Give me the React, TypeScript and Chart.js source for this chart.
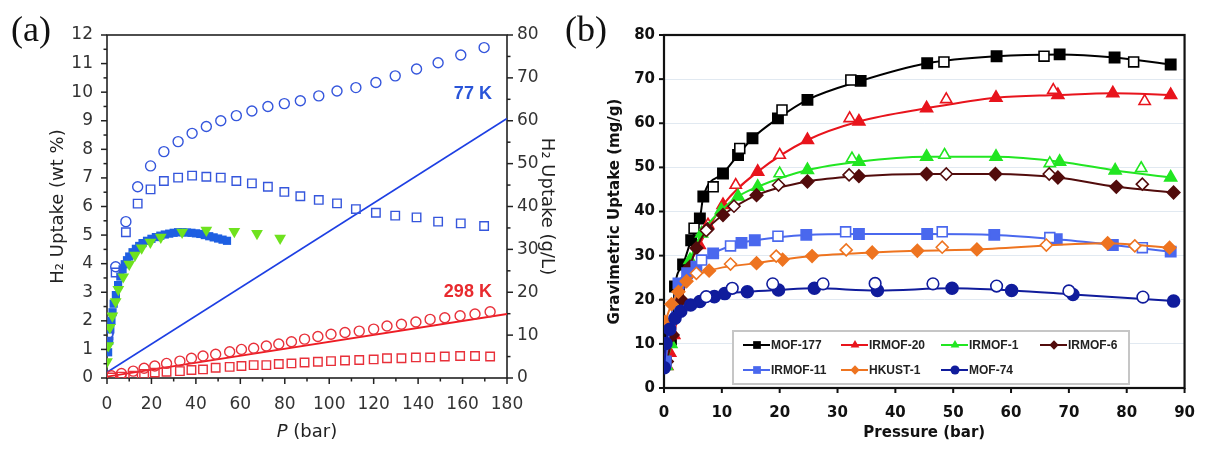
import React, { useEffect, useRef } from "react";
import { Chart, registerables } from "chart.js";
Chart.register(...registerables);

// ---------------- Panel (a) data ----------------
const A_P77 = [0.6, 3.9, 8.5, 13.8, 19.6, 25.6, 32, 38.3, 44.7, 51.2, 58.2, 65.2, 72.4, 79.8, 87, 95.3, 103.5, 112, 121, 129.7, 139.3, 149, 159.2, 169.7];
const A_TOTAL77 = [1.57, 3.89, 5.47, 6.69, 7.42, 7.92, 8.27, 8.56, 8.8, 9.0, 9.18, 9.34, 9.5, 9.6, 9.7, 9.87, 10.04, 10.16, 10.34, 10.57, 10.81, 11.03, 11.3, 11.56];
const A_EXCESS77 = [1.5, 3.69, 5.1, 6.1, 6.6, 6.89, 7.01, 7.08, 7.04, 7.01, 6.89, 6.81, 6.69, 6.51, 6.36, 6.23, 6.11, 5.91, 5.78, 5.68, 5.62, 5.47, 5.41, 5.32];
const A_P298 = [2, 6.5, 11.8, 16.7, 21.5, 26.8, 32.8, 38, 43.2, 48.9, 55.2, 60.5, 66, 71.7, 77.3, 83, 88.9, 94.9, 100.8, 107.1, 113.5, 120, 126, 132.5, 139, 145.4, 152, 158.9, 165.6, 172.4];
const A_TOTAL298 = [0.08, 0.16, 0.24, 0.34, 0.42, 0.51, 0.59, 0.69, 0.77, 0.83, 0.92, 1.0, 1.04, 1.12, 1.19, 1.27, 1.36, 1.45, 1.53, 1.59, 1.64, 1.71, 1.82, 1.88, 1.96, 2.05, 2.11, 2.18, 2.24, 2.32];
const A_EXCESS298 = [0.02, 0.05, 0.08, 0.14, 0.19, 0.22, 0.24, 0.28, 0.3, 0.36, 0.39, 0.42, 0.45, 0.45, 0.49, 0.51, 0.54, 0.57, 0.59, 0.61, 0.63, 0.65, 0.69, 0.69, 0.72, 0.72, 0.75, 0.77, 0.77, 0.75];
const A_PFILLED = [0.5, 1, 1.5, 2, 2.5, 3, 4, 5, 6, 7, 8, 9, 10, 11.5, 13, 14.5, 16, 18, 20, 22, 24, 26, 28, 30, 32, 34, 36, 38, 40, 42, 44, 46, 48, 50, 52, 54];
const A_FILLED = [0.9, 1.3, 1.7, 2.0, 2.3, 2.6, 2.9, 3.25, 3.55, 3.8, 3.98, 4.12, 4.25, 4.4, 4.52, 4.62, 4.72, 4.8, 4.87, 4.93, 4.98, 5.02, 5.05, 5.08, 5.1, 5.1, 5.09, 5.08, 5.06, 5.04, 5.0, 4.96, 4.92, 4.88, 4.84, 4.8];
const A_PTRI = [0, 0.6, 1.3, 2.4, 3.9, 5.1, 7.3, 10, 12.6, 15.6, 19.5, 24.2, 33.8, 44.7, 57.3, 67.5, 77.9];
const A_TRI = [0.57, 1.13, 1.77, 2.17, 2.67, 3.1, 3.54, 3.98, 4.3, 4.55, 4.75, 4.93, 5.1, 5.17, 5.13, 5.06, 4.89];
const A_LINE_P = [0, 180];
const A_LINE77 = [0.2, 9.08];
const A_LINE298 = [0.05, 2.24];
const A_XTICKS = [0, 20, 40, 60, 80, 100, 120, 140, 160, 180];
const A_YTICKS = [0, 1, 2, 3, 4, 5, 6, 7, 8, 9, 10, 11, 12];
const A_Y2TICKS = [0, 10, 20, 30, 40, 50, 60, 70, 80];

// ---------------- Panel (b) data ----------------
const MOF177_P = [0.3, 1.2, 1.9, 3.3, 4.7, 6.2, 6.8, 10.2, 12.8, 15.3, 19.7, 24.8, 34, 45.5, 57.5, 68.4, 77.9, 87.6];
const MOF177_V = [6, 11, 23, 28, 33.5, 38.4, 43.4, 48.6, 52.8, 56.6, 61.1, 65.3, 69.6, 73.6, 75.2, 75.6, 74.9, 73.3];
const MOF177_DP = [5.2, 8.5, 13.1, 20.4, 32.3, 48.4, 65.7, 81.2];
const MOF177_DV = [36.2, 45.6, 54.3, 63, 69.8, 73.9, 75.2, 73.9];
const IRMOF20_P = [0.5, 1.0, 1.7, 3.0, 4.5, 6.1, 10.2, 16.2, 24.8, 33.7, 45.4, 57.4, 68.1, 77.6, 87.6];
const IRMOF20_V = [5, 8, 12, 20, 28, 32.4, 41.5, 49, 56.2, 60.4, 63.4, 65.8, 66.4, 66.8, 66.4];
const IRMOF20_DP = [7.6, 12.4, 20, 32.1, 48.8, 67.3, 83.1];
const IRMOF20_DV = [37, 46, 52.8, 61.1, 65.4, 67.5, 65];
const IRMOF1_P = [0.4, 1.2, 2.5, 4.5, 6.5, 9.9, 12.8, 16.2, 24.8, 33.7, 45.4, 57.4, 68.4, 78, 87.6];
const IRMOF1_V = [5, 10, 20, 29, 35, 40.3, 43.4, 45.6, 49.4, 51.3, 52.4, 52.4, 51.3, 49.3, 47.7];
const IRMOF1_DP = [20, 32.5, 48.5, 66.7, 82.5];
const IRMOF1_DV = [48.6, 52, 52.8, 50.9, 49.8];
const IRMOF6_P = [0.5, 1.5, 3, 4.5, 5.6, 7.5, 10.2, 16, 24.8, 33.7, 45.4, 57.3, 68.1, 78.2, 88.1];
const IRMOF6_V = [6, 12, 20, 27.5, 31.7, 36, 39.2, 43.7, 46.8, 48, 48.5, 48.5, 47.7, 45.6, 44.3];
const IRMOF6_DP = [7.3, 12.1, 19.8, 32, 48.8, 66.6, 82.7];
const IRMOF6_DV = [35.7, 41.2, 46, 48.3, 48.5, 48.5, 46.2];
const IRMOF11_P = [0.3, 1.0, 2.5, 4.0, 5.6, 8.5, 13.4, 15.7, 24.6, 33.7, 45.5, 57.1, 67.9, 77.6, 87.6];
const IRMOF11_V = [6, 14, 23.7, 26, 27.5, 30.5, 32.9, 33.5, 34.7, 34.9, 34.9, 34.7, 33.7, 32.4, 30.9];
const IRMOF11_DP = [6.5, 11.5, 19.7, 31.4, 48.1, 66.7, 82.7];
const IRMOF11_DV = [29, 32.2, 34.4, 35.4, 35.4, 34.1, 31.8];
const HKUST1_P = [0.2, 1.3, 2.5, 3.9, 7.8, 16, 20.5, 25.6, 36, 43.8, 54.1, 76.7, 87.4];
const HKUST1_V = [15, 19, 21.8, 24.2, 26.6, 28.3, 29.1, 29.9, 30.7, 31.1, 31.4, 32.8, 31.8];
const HKUST1_DP = [5.6, 11.5, 19.4, 31.5, 48.1, 66.1, 81.4];
const HKUST1_DV = [26, 28.1, 29.9, 31.3, 31.9, 32.4, 32.2];
const MOF74_P = [0.05, 0.34, 1.0, 1.9, 2.9, 4.6, 6.2, 8.7, 10.5, 14.4, 19.8, 26, 36.9, 49.8, 60.1, 70.7, 88.1];
const MOF74_V = [4.6, 10.1, 13.3, 15.8, 17.4, 18.8, 19.6, 20.7, 21.4, 21.8, 22.2, 22.6, 22.1, 22.6, 22.1, 21.2, 19.7];
const MOF74_DP = [7.3, 11.8, 18.8, 27.5, 36.5, 46.5, 57.5, 70, 82.8];
const MOF74_DV = [20.7, 22.6, 23.6, 23.6, 23.7, 23.6, 23.1, 22, 20.6];
const B_XTICKS = [0, 10, 20, 30, 40, 50, 60, 70, 80, 90];
const B_YTICKS = [0, 10, 20, 30, 40, 50, 60, 70, 80];

const B_SERIES = [
  { name: "MOF-177", p: MOF177_P, v: MOF177_V, dp: MOF177_DP, dv: MOF177_DV },
  { name: "IRMOF-20", p: IRMOF20_P, v: IRMOF20_V, dp: IRMOF20_DP, dv: IRMOF20_DV },
  { name: "IRMOF-1", p: IRMOF1_P, v: IRMOF1_V, dp: IRMOF1_DP, dv: IRMOF1_DV },
  { name: "IRMOF-6", p: IRMOF6_P, v: IRMOF6_V, dp: IRMOF6_DP, dv: IRMOF6_DV },
  { name: "IRMOF-11", p: IRMOF11_P, v: IRMOF11_V, dp: IRMOF11_DP, dv: IRMOF11_DV },
  { name: "HKUST-1", p: HKUST1_P, v: HKUST1_V, dp: HKUST1_DP, dv: HKUST1_DV },
  { name: "MOF-74", p: MOF74_P, v: MOF74_V, dp: MOF74_DP, dv: MOF74_DV },
];

// ---------------- styles ----------------
const B_STYLE: Record<string, { color: string; shape: string; r: number }> = {
  "MOF-177": { color: "#000000", shape: "rect", r: 7 },
  "IRMOF-20": { color: "#e8141c", shape: "triangle", r: 6.5 },
  "IRMOF-1": { color: "#22e622", shape: "triangle", r: 6.5 },
  "IRMOF-6": { color: "#520c0c", shape: "rectRot", r: 6 },
  "IRMOF-11": { color: "#4a68ee", shape: "rect", r: 7 },
  "HKUST-1": { color: "#ee7420", shape: "rectRot", r: 6 },
  "MOF-74": { color: "#101c9c", shape: "circle", r: 5.8 },
};

const FA = "'DejaVu Sans', sans-serif";
const FB = "'DejaVu Sans', sans-serif";
const BLUE = "#3556dc";
const RED = "#e8303a";

const pts = (xs: number[], ys: number[]) => xs.map((x, i) => ({ x, y: ys[i] }));

type TickSpec = { id: string; side: "left" | "right" | "bottom"; major: number; minor: number; majorLen: number; minorLen: number };

function tickPlugin(specs: TickSpec[], color: string, width: number) {
  return {
    id: "tickMarks",
    beforeDatasetsDraw(chart: any) {
      const { ctx, chartArea: ca } = chart;
      ctx.save();
      ctx.strokeStyle = color;
      ctx.lineWidth = width;
      for (const s of specs) {
        const sc = chart.scales[s.id];
        const n = Math.round((sc.max - sc.min) / s.minor);
        for (let i = 0; i <= n; i++) {
          const v = sc.min + i * s.minor;
          const r = v / s.major;
          const isMajor = Math.abs(r - Math.round(r)) < 1e-6;
          const len = isMajor ? s.majorLen : s.minorLen;
          const p = sc.getPixelForValue(v);
          ctx.beginPath();
          if (s.side === "left") { ctx.moveTo(ca.left, p); ctx.lineTo(ca.left - len, p); }
          else if (s.side === "right") { ctx.moveTo(ca.right, p); ctx.lineTo(ca.right + len, p); }
          else { ctx.moveTo(p, ca.bottom); ctx.lineTo(p, ca.bottom + len); }
          ctx.stroke();
        }
      }
      ctx.restore();
    },
  };
}

function boxPlugin(color: string, width: number) {
  return {
    id: "box",
    beforeDatasetsDraw(chart: any) {
      const { ctx, chartArea: ca } = chart;
      ctx.save();
      ctx.strokeStyle = color;
      ctx.lineWidth = width;
      ctx.strokeRect(ca.left, ca.top, ca.right - ca.left, ca.bottom - ca.top);
      ctx.restore();
    },
  };
}

function marker(ctx: CanvasRenderingContext2D, shape: string, x: number, y: number, r: number) {
  ctx.beginPath();
  if (shape === "rect") {
    const s = r * Math.SQRT1_2;
    ctx.rect(x - s, y - s, 2 * s, 2 * s);
  } else if (shape === "triangle") {
    for (let k = 0; k < 3; k++) {
      const a = (k * 2 * Math.PI) / 3;
      const px = x + Math.sin(a) * r, py = y - Math.cos(a) * r;
      if (k === 0) ctx.moveTo(px, py); else ctx.lineTo(px, py);
    }
    ctx.closePath();
  } else if (shape === "rectRot") {
    ctx.moveTo(x - r, y); ctx.lineTo(x, y - r); ctx.lineTo(x + r, y); ctx.lineTo(x, y + r); ctx.closePath();
  } else {
    ctx.arc(x, y, r, 0, Math.PI * 2);
  }
  ctx.fill();
}

const textPluginA = {
  id: "textA",
  afterDraw(chart: any) {
    const { ctx, chartArea: ca, scales } = chart;
    ctx.save();
    ctx.textBaseline = "middle";
    ctx.font = "bold 18px 'Liberation Sans', Arial, sans-serif";
    ctx.textAlign = "right";
    ctx.fillStyle = "#2a55d8";
    ctx.fillText("77 K", scales.x.getPixelForValue(173.2), scales.y.getPixelForValue(9.94));
    ctx.fillStyle = "#e82a2e";
    ctx.fillText("298 K", scales.x.getPixelForValue(173.2), scales.y.getPixelForValue(3.0));
    // x-axis title with italic P
    const cx = (ca.left + ca.right) / 2;
    ctx.fillStyle = "#222";
    ctx.font = `italic 18px ${FA}`;
    const w1 = ctx.measureText("P").width;
    ctx.font = `18px ${FA}`;
    const w2 = ctx.measureText(" (bar)").width;
    const x0 = cx - (w1 + w2) / 2;
    ctx.textAlign = "left";
    ctx.font = `italic 18px ${FA}`;
    ctx.fillText("P", x0, 432);
    ctx.font = `18px ${FA}`;
    ctx.fillText(" (bar)", x0 + w1, 432);
    // panel label
    ctx.fillStyle = "#111";
    ctx.font = "36px 'Liberation Serif', 'Times New Roman', serif";
    ctx.fillText("(a)", 11, 32);
    ctx.restore();
  },
};

const legendPluginB = {
  id: "legendB",
  afterDraw(chart: any) {
    const { ctx } = chart;
    ctx.save();
    const bx = 171, by = 331, bw = 396, bh = 53;
    ctx.fillStyle = "#ffffff";
    ctx.fillRect(bx, by, bw, bh);
    ctx.strokeStyle = "#c6c6c6";
    ctx.lineWidth = 2;
    ctx.strokeRect(bx, by, bw, bh);
    const cols = [181, 279, 379, 478];
    const rows = [345, 370];
    ctx.font = "bold 12px 'Liberation Sans', Arial, sans-serif";
    ctx.textBaseline = "middle";
    ctx.textAlign = "left";
    B_SERIES.forEach((s, i) => {
      const st = B_STYLE[s.name];
      const x = cols[i % 4], y = rows[Math.floor(i / 4)];
      ctx.strokeStyle = st.color;
      ctx.lineWidth = 2;
      ctx.beginPath(); ctx.moveTo(x, y); ctx.lineTo(x + 27, y); ctx.stroke();
      ctx.fillStyle = st.color;
      marker(ctx, st.shape, x + 14, y, st.r * 0.78);
      ctx.fillStyle = "#222";
      ctx.fillText(s.name, x + 28, y + 0.5);
    });
    ctx.fillStyle = "#111";
    ctx.font = "36px 'Liberation Serif', 'Times New Roman', serif";
    ctx.fillText("(b)", 3, 32);
    ctx.restore();
  },
};

function configA(): any {
  const tickFont = { family: FA, size: 17 };
  const titleFont = { family: FA, size: 18 };
  return {
    type: "scatter",
    data: {
      datasets: [
        { data: pts(A_PTRI, A_TRI), pointStyle: "triangle", rotation: 180, pointRadius: 6.8, backgroundColor: "#6ee21e", borderColor: "#6ee21e", borderWidth: 0 },
        { data: pts(A_P77, A_TOTAL77), pointStyle: "circle", pointRadius: 5, backgroundColor: "rgba(0,0,0,0)", borderColor: BLUE, borderWidth: 1.4 },
        { data: pts(A_P77, A_EXCESS77), pointStyle: "rect", pointRadius: 6, backgroundColor: "rgba(0,0,0,0)", borderColor: BLUE, borderWidth: 1.4 },
        { data: pts(A_PFILLED, A_FILLED), pointStyle: "rect", pointRadius: 5.8, backgroundColor: "#1e5fe2", borderColor: "#1e5fe2", borderWidth: 0 },
        { data: pts(A_P298, A_TOTAL298), pointStyle: "circle", pointRadius: 5, backgroundColor: "rgba(0,0,0,0)", borderColor: RED, borderWidth: 1.4 },
        { data: pts(A_P298, A_EXCESS298), pointStyle: "rect", pointRadius: 6, backgroundColor: "rgba(0,0,0,0)", borderColor: RED, borderWidth: 1.4 },
        { data: pts(A_LINE_P, A_LINE77), showLine: true, pointRadius: 0, borderColor: "#1d3fe3", borderWidth: 1.6 },
        { data: pts(A_LINE_P, A_LINE298), showLine: true, pointRadius: 0, borderColor: "#ee1c24", borderWidth: 1.8 },
      ],
    },
    options: {
      responsive: false,
      animation: false,
      devicePixelRatio: 1,
      layout: { padding: { top: 35, left: 0, right: 0, bottom: 0 } },
      plugins: { legend: { display: false }, tooltip: { enabled: false } },
      scales: {
        x: {
          type: "linear", position: "bottom", min: 0, max: 180,
          afterBuildTicks: (s: any) => { s.ticks = A_XTICKS.map((v) => ({ value: v })); },
          ticks: { font: tickFont, color: "#333", padding: 16, maxRotation: 0, autoSkip: false },
          grid: { display: false, drawTicks: false }, border: { display: false },
          afterFit: (s: any) => { s.height = 74; },
        },
        y: {
          type: "linear", position: "left", min: 0, max: 12,
          afterBuildTicks: (s: any) => { s.ticks = A_YTICKS.map((v) => ({ value: v })); },
          ticks: { font: tickFont, color: "#333", padding: 14 },
          grid: { display: false, drawTicks: false }, border: { display: false },
          title: { display: true, text: "H₂ Uptake (wt %)", font: titleFont, color: "#222", padding: { top: 48, bottom: 0 } },
          afterFit: (s: any) => { s.width = 107; },
        },
        y2: {
          type: "linear", position: "right", min: 0, max: 80,
          afterBuildTicks: (s: any) => { s.ticks = A_Y2TICKS.map((v) => ({ value: v })); },
          ticks: { font: tickFont, color: "#333", padding: 10 },
          grid: { display: false, drawTicks: false }, border: { display: false },
          title: { display: true, text: "H₂ Uptake (g/L)", font: titleFont, color: "#222", padding: { top: 5, bottom: 0 } },
          afterFit: (s: any) => { s.width = 55; },
        },
      },
    },
    plugins: [
      boxPlugin("#222", 1.6),
      tickPlugin(
        [
          { id: "y", side: "left", major: 1, minor: 0.5, majorLen: 6, minorLen: 3.5 },
          { id: "y2", side: "right", major: 10, minor: 5, majorLen: 6, minorLen: 3.5 },
          { id: "x", side: "bottom", major: 20, minor: 10, majorLen: 6, minorLen: 3.5 },
        ],
        "#222",
        1.5
      ),
      textPluginA,
    ],
  };
}

function configB(): any {
  const tickFont = { family: FB, size: 15, weight: "bold" };
  const titleFont = { family: FB, size: 15, weight: "bold" };
  const datasets: any[] = [];
  const order = [...B_SERIES].reverse();
  for (const s of order) {
    const st = B_STYLE[s.name];
    datasets.push({
      data: pts(s.dp, s.dv), pointStyle: st.shape, pointRadius: st.r,
      backgroundColor: "#ffffff", borderColor: st.color, borderWidth: 1.6, showLine: false,
    });
    datasets.push({
      data: pts(s.p, s.v), pointStyle: st.shape, pointRadius: st.r,
      backgroundColor: st.color, borderColor: st.color, borderWidth: 2,
      showLine: true, cubicInterpolationMode: "monotone",
    });
  }
  return {
    type: "scatter",
    data: { datasets },
    options: {
      responsive: false,
      animation: false,
      devicePixelRatio: 1,
      layout: { padding: { top: 35, left: 0, right: 24, bottom: 0 } },
      plugins: { legend: { display: false }, tooltip: { enabled: false } },
      scales: {
        x: {
          type: "linear", position: "bottom", min: 0, max: 90,
          afterBuildTicks: (s: any) => { s.ticks = B_XTICKS.map((v) => ({ value: v })); },
          ticks: { font: tickFont, color: "#111", padding: 16, maxRotation: 0, autoSkip: false },
          grid: { display: false, drawTicks: false }, border: { display: false },
          title: { display: true, text: "Pressure (bar)", font: titleFont, color: "#111", padding: { top: 0, bottom: 10 } },
          afterFit: (s: any) => { s.height = 64; },
        },
        y: {
          type: "linear", position: "left", min: 0, max: 80,
          afterBuildTicks: (s: any) => { s.ticks = B_YTICKS.map((v) => ({ value: v })); },
          ticks: { font: tickFont, color: "#111", padding: 9 },
          grid: { display: true, drawTicks: false, color: "#e1e9f1", lineWidth: 1 }, border: { display: false },
          title: { display: true, text: "Gravimetric Uptake (mg/g)", font: titleFont, color: "#111", padding: { top: 44, bottom: 0 } },
          afterFit: (s: any) => { s.width = 102; },
        },
      },
    },
    plugins: [
      boxPlugin("#111", 2.2),
      tickPlugin(
        [
          { id: "y", side: "left", major: 10, minor: 10, majorLen: 5, minorLen: 5 },
          { id: "x", side: "bottom", major: 10, minor: 10, majorLen: 5, minorLen: 5 },
        ],
        "#111",
        2
      ),
      legendPluginB,
    ],
  };
}

export default function App() {
  const refA = useRef<HTMLCanvasElement>(null);
  const refB = useRef<HTMLCanvasElement>(null);
  useEffect(() => {
    const a = new Chart(refA.current as HTMLCanvasElement, configA());
    const b = new Chart(refB.current as HTMLCanvasElement, configB());
    return () => { a.destroy(); b.destroy(); };
  }, []);
  return (
    <div style={{ position: "fixed", left: 0, top: 0, width: 1211, height: 452, background: "#fff", overflow: "hidden" }}>
      <canvas ref={refA} width={562} height={452} style={{ position: "absolute", left: 0, top: 0, width: 562, height: 452 }} />
      <canvas ref={refB} width={649} height={452} style={{ position: "absolute", left: 562, top: 0, width: 649, height: 452 }} />
    </div>
  );
}
